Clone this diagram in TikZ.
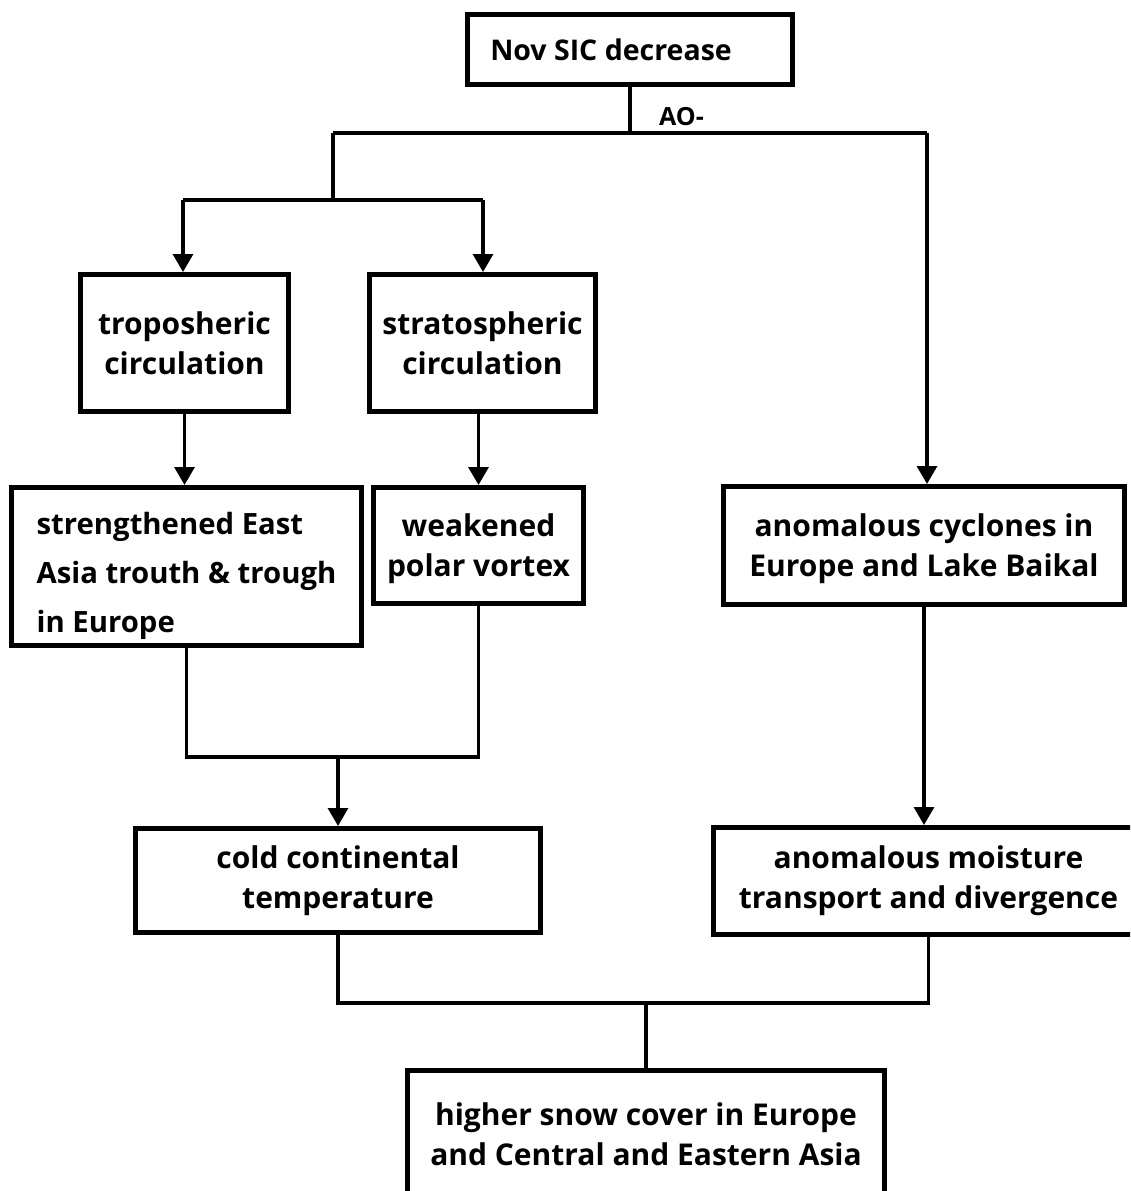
\documentclass[tikz,border=0pt]{standalone}
\usepackage{fontspec}
\setmainfont{Open Sans}
\usetikzlibrary{arrows.meta}
\begin{document}
\begin{tikzpicture}[x=1pt,y=-1pt,
  box/.style={draw, line width=5pt, inner sep=0pt, align=center,
    font=\bfseries\fontsize{30}{40}\selectfont},
  conn/.style={line width=3.2pt},
  arr/.style={conn, -{Triangle[width=20pt,length=18pt]}}]
\clip (0,0) rectangle (1130,1191);
\useasboundingbox (0,0) rectangle (1130,1191);
\fill[white] (0,0) rectangle (1130,1191);
% boxes
\node[box, font=\bfseries\fontsize{28.5}{40}\selectfont, minimum width=325pt, minimum height=70pt] (nov) at (630,49.5) {\hbox{Nov SIC decrease\kern38pt}};
\node[box, minimum width=208pt, minimum height=137pt] (tropo) at (184.5,343) {troposheric\\circulation};
\node[box, minimum width=226pt, minimum height=137pt] (strato) at (482.5,343) {stratospheric\\circulation};
\node[box, align=left, font=\bfseries\fontsize{29.3}{49}\selectfont, minimum width=350pt, minimum height=158pt] (streng) at (186.5,566.5) {\rule{0pt}{42pt}strengthened East\\Asia trouth \& trough\\in Europe};
\node[box, minimum width=210pt, minimum height=116pt] (weak) at (478.5,545.5) {\rule{0pt}{30pt}weakened\\polar vortex};
\node[box, minimum width=401pt, minimum height=118pt] (cyc) at (924,545.5) {\rule{0pt}{30pt}anomalous cyclones in\\Europe and Lake Baikal};
\node[box, minimum width=405pt, minimum height=104pt] (cold) at (338,880.5) {cold continental\\temperature};
\node[box, minimum width=430pt, minimum height=107pt] (moist) at (928.5,881) {anomalous moisture\\transport and divergence};
\node[box, minimum width=477pt, minimum height=127pt] (snow) at (646,1134) {higher snow cover in Europe\\and Central and Eastern Asia};
\node[font=\bfseries\fontsize{25}{28}\selectfont, anchor=base west, inner sep=0pt] (ao) at (659,125) {AO-};
% junctions
\coordinate (j1) at (630,133);
\coordinate (jl) at (333,133);
\coordinate (jr) at (927,133);
\coordinate (j2) at (333,200);
\coordinate (tl) at (183,200);
\coordinate (tr) at (483,200);
\coordinate (m1) at (338,757);
\coordinate (m2) at (646,1003);
% connectors
\draw[conn] (nov.south) -- (j1);
\draw[conn] (jl) -- (jr);
\draw[conn] (jl) -- (j2);
\draw[conn] (tl) -- (tr);
\draw[arr] (tl) -- (tl |- tropo.north);
\draw[arr] (tr) -- (tr |- strato.north);
\draw[arr] (jr) -- (jr |- cyc.north);
\draw[arr] (tropo.south) -- (tropo.south |- streng.north);
\draw[arr] (weak.north |- strato.south) -- (weak.north);
\draw[conn] (streng.south) |- (m1) -| (weak.south);
\draw[arr] (m1) -- (cold.north);
\draw[arr] (cyc.south) -- (cyc.south |- moist.north);
\draw[conn] (cold.south) |- (m2) -| (moist.south);
\draw[conn] (m2) -- (snow.north);
\end{tikzpicture}
\end{document}
